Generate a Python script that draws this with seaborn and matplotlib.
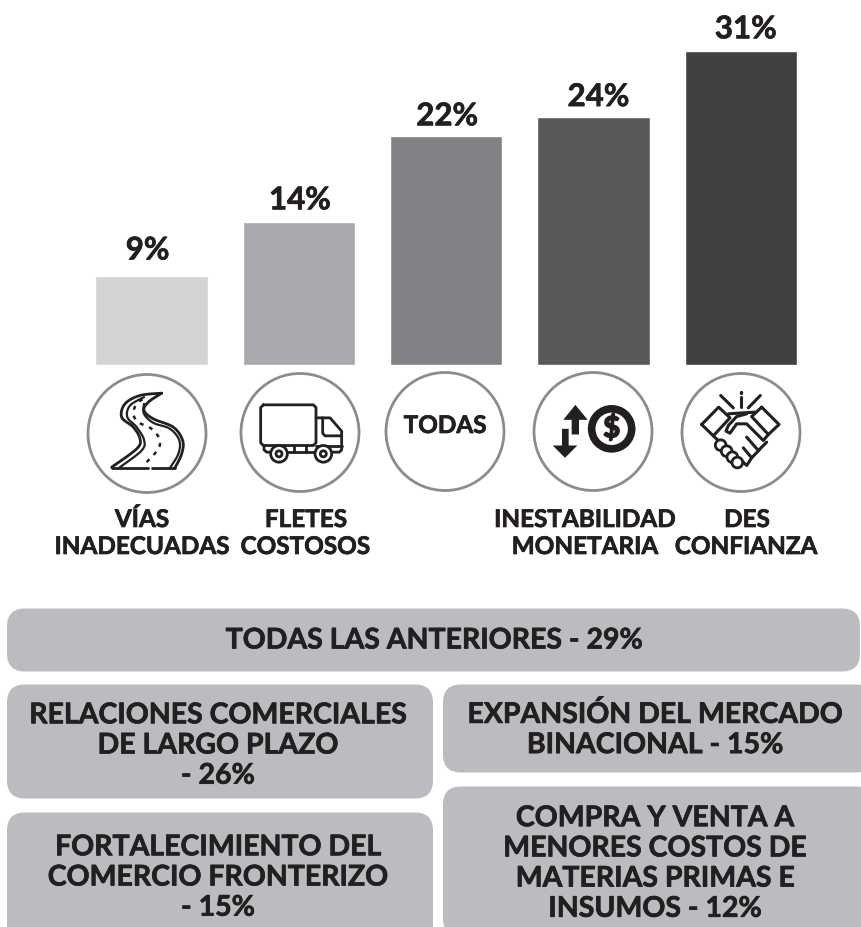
import numpy as np
import matplotlib
matplotlib.use("Agg")
import matplotlib.pyplot as plt
from matplotlib.patches import Circle, FancyBboxPatch, Polygon
import matplotlib.patheffects as pe
import seaborn as sns

categories = ["VÍAS INADECUADAS", "FLETES COSTOSOS", "TODAS", "INESTABILIDAD MONETARIA", "DESCONFIANZA"]
# heights as drawn in the picture, the printed labels round them
bar_heights = [8.75, 14.1, 22.6, 24.5, 31.0]
bar_labels = ["9%", "14%", "22%", "24%", "31%"]
bar_colors = ["#d1d3d4", "#a7a9ac", "#808285", "#58595b", "#414042"]
# label offset from the bar top centre, pixels
label_dx = [-4, 1, 1, 5, 5]
label_dy = [26, 22, 20, 20, 22]

icon_labels = [("VÍAS", 142, 519), ("INADECUADAS", 142, 546), ("FLETES", 306, 519), ("COSTOSOS", 305, 546),
               ("INESTABILIDAD", 585, 519), ("MONETARIA", 585, 546), ("DES", 747, 519), ("CONFIANZA", 746, 546)]
circles = [(147, 433), (300, 432), (445, 431), (593, 431), (741, 432)]

boxes = [(7, 608, 853, 63), (7, 684, 426, 114), (7, 812, 426, 130), (443, 684, 430, 88), (443, 786, 430, 150)]
box_texts = [("TODAS LAS ANTERIORES - 29%", 434, 640),
             ("RELACIONES COMERCIALES\nDE LARGO PLAZO\n- 26%", 218, 745),
             ("FORTALECIMIENTO DEL\nCOMERCIO FRONTERIZO\n- 15%", 218, 877),
             ("EXPANSIÓN DEL MERCADO\nBINACIONAL - 15%", 655, 729),
             ("COMPRA Y VENTA A\nMENORES COSTOS DE\nMATERIAS PRIMAS E\nINSUMOS - 12%", 655, 863)]

INK = "#231f20"
W, H = 862, 928
SHIFT = 1.5
THICK = [pe.withStroke(linewidth=0.5, foreground=INK)]

sns.set_theme(style="white")
plt.rcParams["font.family"] = ["Lato", "DejaVu Sans"]

fig = plt.figure(figsize=(W / 100, H / 100), dpi=100)
bg = fig.add_axes([0, 0, 1, 1])
bg.set_xlim(0, W)
bg.set_ylim(H - SHIFT, -SHIFT)
bg.axis("off")

# bars
ax = fig.add_axes([78 / W, (H - 366) / H, 736.5 / W, 366 / H])
sns.barplot(x=categories, y=bar_heights, hue=categories, palette=bar_colors, width=0.763,
            saturation=1, legend=False, ax=ax)
ax.set_xlim(-0.5, 4.5)
ax.set_ylim(0, 366 / 10.12)
ax.axis("off")
ax.patch.set_alpha(0)
for cont, lab, dx, dy in zip(ax.containers, bar_labels, label_dx, label_dy):
    rect = cont[0]
    ax.annotate(lab, (rect.get_x() + rect.get_width() / 2, rect.get_height()), xytext=(dx * 0.72, dy * 0.72),
                textcoords="offset points", ha="center", va="center", fontsize=22.5, fontweight="bold",
                color=INK, path_effects=THICK)


def smooth(pts, n=12):
    # catmull-rom through the points
    p = np.array(pts, float)
    p = np.vstack([p[0], p, p[-1]])
    out = []
    for i in range(1, len(p) - 2):
        for t in np.linspace(0, 1, n, endpoint=False):
            out.append(0.5 * (2 * p[i] + (p[i + 1] - p[i - 1]) * t
                              + (2 * p[i - 1] - 5 * p[i] + 4 * p[i + 1] - p[i + 2]) * t ** 2
                              + (3 * p[i] - p[i - 1] - 3 * p[i + 1] + p[i + 2]) * t ** 3))
    out.append(p[-2])
    return np.array(out)


def line(pts, ox, oy, lw=2.0, curve=False, **kw):
    a = smooth(pts) if curve else np.array(pts, float)
    bg.plot(ox + a[:, 0] / 3, oy + a[:, 1] / 3, color=INK, lw=lw, solid_capstyle="round",
            solid_joinstyle="round", **kw)


def ring(x, y, r, ox, oy, lw=2.0, fill="white"):
    bg.add_patch(Circle((ox + x / 3, oy + y / 3), r / 3, fc=fill, ec=INK, lw=lw, zorder=4))


for x, y in circles:
    bg.add_patch(Circle((x, y), 59, fc="white", ec="#8a8c8f", lw=2))

bg.text(445, 425, "TODAS", ha="center", va="center", fontsize=17.5, fontweight="bold", color=INK, path_effects=THICK)

for txt, x, y in icon_labels:
    bg.text(x, y, txt, ha="center", va="center", fontsize=17.5, fontweight="bold", color=INK, path_effects=THICK)

# road
ox, oy = 70, 360
line([(125, 320), (200, 265), (210, 235), (190, 200), (155, 170), (165, 130), (210, 105), (275, 98)], ox, oy, curve=True)
line([(275, 98), (235, 125), (222, 150), (250, 175), (310, 200), (338, 240), (335, 280), (315, 322)], ox, oy, curve=True)
line([(150, 320), (215, 270), (222, 238), (200, 200), (172, 170), (180, 135), (222, 110)], ox, oy, curve=True, lw=1.6)
line([(300, 322), (325, 280), (328, 240), (300, 205), (250, 187), (222, 160), (222, 130)], ox, oy, curve=True, lw=1.6)
road_mid = smooth([(230, 305), (265, 265), (268, 235), (245, 205), (205, 185), (190, 160), (200, 130), (225, 112)])
bg.plot(ox + road_mid[:, 0] / 3, oy + road_mid[:, 1] / 3, color=INK, lw=1.8, ls=(0, (1.6, 2.4)))
line([(125, 322), (235, 322)], ox, oy)
line([(245, 322), (315, 322)], ox, oy)

# truck
line([(580, 133), (730, 133), (738, 141), (738, 247), (730, 255), (580, 255), (572, 247), (572, 141), (580, 133)], ox, oy)
line([(738, 172), (780, 172), (815, 212), (815, 268), (808, 275), (788, 275)], ox, oy)
line([(758, 172), (758, 218), (765, 226), (814, 226)], ox, oy)
line([(738, 255), (815, 255)], ox, oy)
line([(582, 255), (582, 268), (590, 275), (600, 275)], ox, oy)
line([(652, 273), (735, 273)], ox, oy)
line([(672, 255), (672, 273)], ox, oy)
line([(708, 255), (708, 273)], ox, oy)
for cx in (627, 760):
    ring(cx, 280, 25, ox, oy)
    ring(cx, 280, 9, ox, oy)

# arrows and coin
ox, oy = 480, 360
bg.add_patch(Polygon([(ox + a / 3, oy + b / 3) for a, b in [(250, 178), (286, 133), (323, 178), (297, 178), (297, 222),
                                                            (275, 222), (275, 178)]], fc=INK, ec="none"))
bg.add_patch(Polygon([(ox + a / 3, oy + b / 3) for a, b in [(218, 255), (255, 292), (292, 255), (266, 255), (266, 205),
                                                            (246, 205), (246, 255)]], fc=INK, ec="none"))
ring(395, 205, 60, ox, oy, lw=5.5)
bg.text(ox + 395 / 3, oy + 205 / 3, "$", ha="center", va="center", fontsize=21, fontweight="black", color=INK, zorder=5,
        path_effects=[pe.withStroke(linewidth=1.0, foreground=INK)])

# handshake
line([(665, 192), (716, 140), (750, 172), (700, 226), (665, 192)], ox, oy, lw=2.2)
line([(845, 140), (897, 192), (865, 222), (815, 168), (845, 140)], ox, oy, lw=2.2)
line([(745, 160), (790, 157), (825, 155)], ox, oy, lw=2.2)
line([(865, 222), (850, 240), (800, 190), (770, 190), (750, 218), (738, 212), (745, 195), (770, 168), (800, 160)], ox, oy, lw=2.2)
line([(700, 226), (720, 245)], ox, oy, lw=2.2)
line([(860, 245), (835, 270), (800, 230)], ox, oy, lw=2.2)
line([(838, 268), (815, 292), (790, 262)], ox, oy, lw=2.2)
line([(815, 292), (800, 315), (785, 300)], ox, oy, lw=2.2)
for fx, fy in [(722, 254), (740, 272), (757, 290), (772, 306)]:
    ring(fx, fy, 16, ox, oy, lw=2.0)
line([(722, 105), (760, 142)], ox, oy, lw=2.2)
line([(782, 108), (782, 140)], ox, oy, lw=2.2)
line([(782, 94), (782, 96)], ox, oy, lw=2.4)
line([(841, 105), (805, 142)], ox, oy, lw=2.2)

# grey boxes at the bottom
for x, y, w, h in boxes:
    bg.add_patch(FancyBboxPatch((x + 18, y + 18), w - 36, h - 36, boxstyle="round,pad=18,rounding_size=18",
                                fc="#bbbcbf", ec="none"))
for txt, x, y in box_texts:
    bg.text(x, y, txt, ha="center", va="center", fontsize=20.5, fontweight="bold", color=INK, linespacing=1.2,
            path_effects=THICK)

fig.savefig("out.png", dpi=100)
